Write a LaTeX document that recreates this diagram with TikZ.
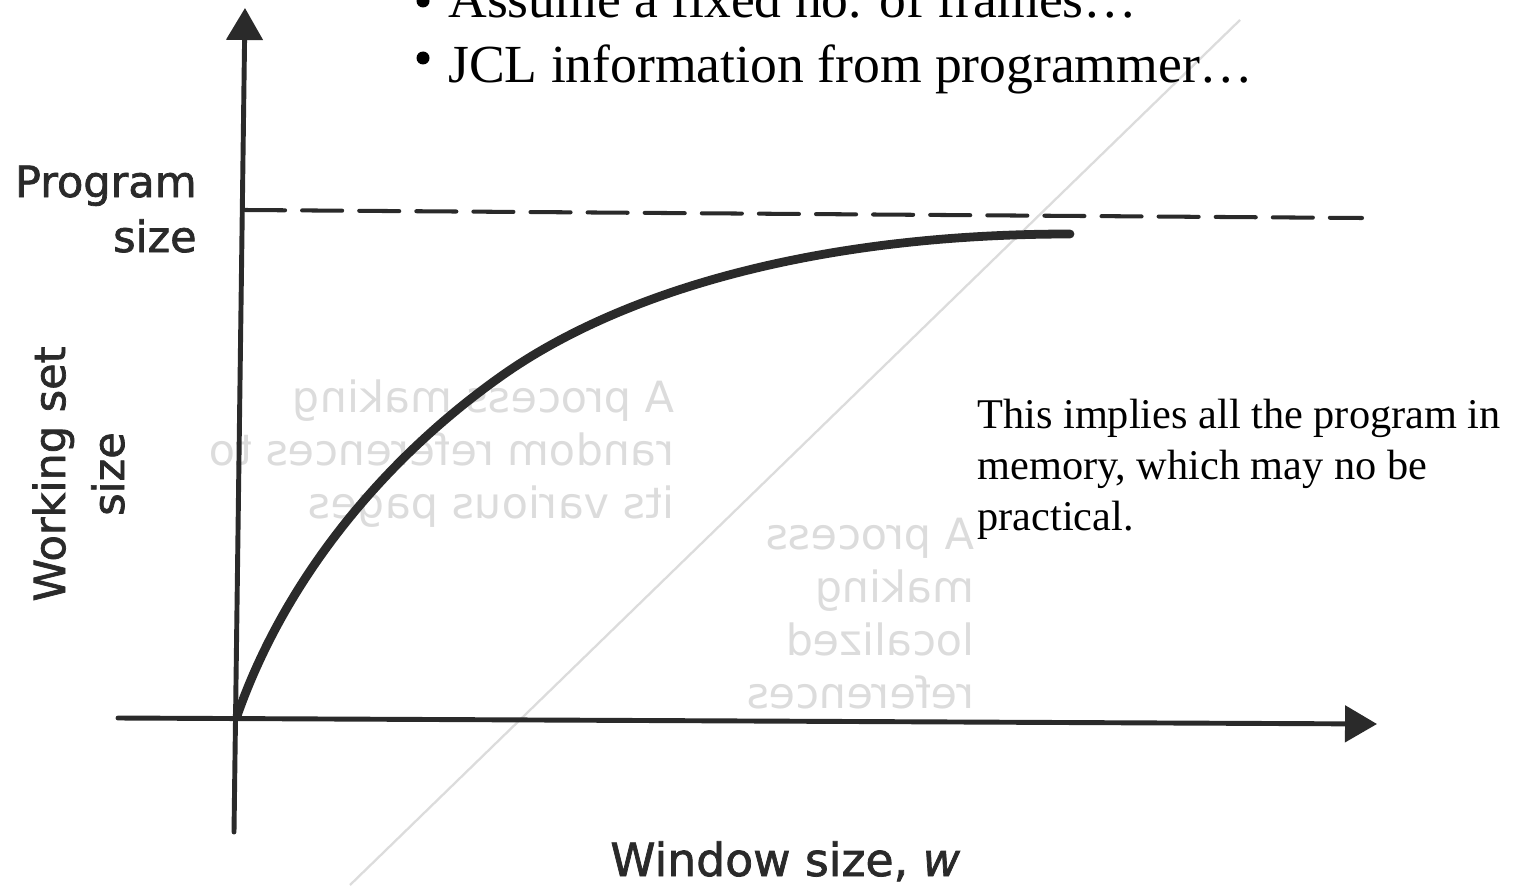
\documentclass[tikz,border=0pt]{standalone}
\usepackage{fontspec}
\setmainfont{Liberation Serif}
\newfontfamily\figsans{DejaVu Sans}[BoldFont={DejaVu Sans}, BoldFeatures={FakeBold=1.6},
  BoldItalicFont={DejaVu Sans Oblique}, BoldItalicFeatures={FakeBold=1.6}]
\usetikzlibrary{arrows.meta}

\definecolor{ink}{HTML}{2A2A2A}
\definecolor{ghost}{HTML}{DCDCDC}

\tikzset{
  axisline/.style={draw=ink, line width=2.8pt, line cap=round},
  axistip/.style={-{Triangle[length=0.64cm,width=0.72cm]}},
  wscurve/.style={draw=ink, line width=5pt, line cap=round},
  limitline/.style={draw=ink, line width=2.3pt, line cap=round, dash pattern=on 22.8pt off 9.7pt},
  slidetext/.style={inner sep=0pt, font=\fontsize{30.5}{37}\selectfont},
  notetext/.style={inner sep=0pt, align=left, font=\fontsize{24.1}{29}\selectfont},
  axislabel/.style={inner sep=0pt, text=ink, font=\figsans\bfseries\fontsize{24.5}{33.5}\selectfont},
  bigaxislabel/.style={inner sep=0pt, text=ink, font=\figsans\bfseries\fontsize{26}{36}\selectfont},
  throughtext/.style={inner sep=0pt, xscale=-1, align=left, text=ghost, font=\figsans\fontsize{24.5}{30}\selectfont},
  bulletdot/.style={fill=black, circle, inner sep=0pt, minimum size=0.26cm},
}

\begin{document}
\begin{tikzpicture}[x=0.02cm, y=-0.02cm]
\useasboundingbox (0,0) rectangle (1520,885);

% faint print-through from the reverse side of the page
\draw[ghost, line width=1.3pt] (350,885) -- (1240,20);
\node[throughtext, anchor=base west] (rev1) at (675,518)
  {A process making\\random references to\\its various pages};
\node[throughtext, anchor=base west] (rev2) at (975,708)
  {A process\\making\\localized\\references};

% axes
\coordinate (ybot) at (234,832);
\coordinate (ytop) at (245,8);
\coordinate (xleft) at (118,718);
\coordinate (xright) at (1377,724);
\draw[axisline, axistip] (ybot) -- (ytop);
\draw[axisline, axistip] (xleft) -- (xright);

% program size level
\coordinate (psleft) at (245,210);
\coordinate (psright) at (1362,218);
\draw[limitline] (psleft) -- (psright);

% working set size as a function of the window size
\coordinate (wsstart) at (237,716);
\coordinate (wsmid) at (500,377);
\coordinate (wsend) at (1070,234);
\draw[wscurve] (wsstart) .. controls (286,576) and (386,458) .. (wsmid)
                         .. controls (622,290) and (820,234) .. (wsend);

% axis labels
\node[axislabel, anchor=base east] (prog) at (197,197) {Program};
\node[axislabel, anchor=base east] (progsz) at (197,252) {size};
\node[axislabel, rotate=90, align=center, anchor=base] (wss) at (124,474) {Working set\\size};
\node[bigaxislabel, anchor=base west] (win) at (610,876) {Window size, \textit{w}};

% slide bullets
\node[bulletdot] (dot1) at (423,1) {};
\node[bulletdot] (dot2) at (423,58) {};
\node[slidetext, anchor=base west] (line1) at (448,18) {Assume a fixed no. of frames…};
\node[slidetext, anchor=base west] (line2) at (448,83) {JCL information from programmer…};

% remark
\node[notetext, anchor=base west] (note) at (977,530)
  {This implies all the program in\\memory, which may no be\\practical.};
\end{tikzpicture}
\end{document}
